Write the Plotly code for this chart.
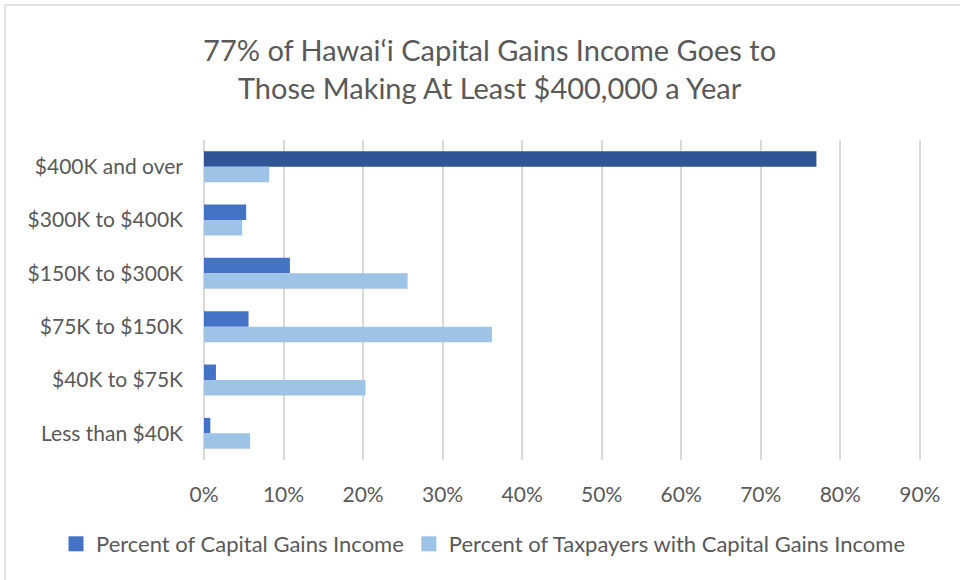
import plotly.graph_objects as go

categories = ["$400K and over", "$300K to $400K", "$150K to $300K",
              "$75K to $150K", "$40K to $75K", "Less than $40K"]
cap_gains_income = [0.77, 0.053, 0.108, 0.056, 0.015, 0.008]
taxpayers_with_cg = [0.082, 0.048, 0.256, 0.362, 0.203, 0.058]
x_ticks = [0, 0.1, 0.2, 0.3, 0.4, 0.5, 0.6, 0.7, 0.8, 0.9]
x_tick_labels = ["0%", "10%", "20%", "30%", "40%", "50%", "60%", "70%", "80%", "90%"]
series_names = ["Percent of Capital Gains Income",
                "Percent of Taxpayers with Capital Gains Income"]

title_text = "77% of Hawai\u2018i Capital Gains Income Goes to<br>Those Making At Least $400,000 a Year"

FONT = "Lato, 'Open Sans', sans-serif"
GRAY = "#595959"
MID_BLUE = "#4472C4"
DARK_BLUE = "#2F5597"
LIGHT_BLUE = "#9DC3E6"

cg_colors = [DARK_BLUE] + [MID_BLUE] * (len(categories) - 1)

fig = go.Figure()
fig.add_trace(go.Bar(
    y=categories, x=cap_gains_income, orientation="h",
    name=series_names[0], showlegend=False, legendgroup="a",
    marker=dict(color=cg_colors, line=dict(width=0)),
))
fig.add_trace(go.Bar(
    y=categories, x=taxpayers_with_cg, orientation="h",
    name=series_names[1], showlegend=False, legendgroup="b",
    marker=dict(color=LIGHT_BLUE, line=dict(width=0)),
))
# legend entries (no visible marks)
fig.add_trace(go.Scatter(x=[None], y=[None], mode="markers", name=series_names[0],
                         legendgroup="a",
                         marker=dict(symbol="square", size=15, color=MID_BLUE)))
fig.add_trace(go.Scatter(x=[None], y=[None], mode="markers", name=series_names[1],
                         legendgroup="b",
                         marker=dict(symbol="square", size=15, color=LIGHT_BLUE)))

L, R, T, B = 204, 39, 140, 120
W, H = 960, 580
pw = W - L - R
ph = H - T - B

def px_x(px):
    return (px - L) / pw

def px_y(py):
    return (H - B - py) / ph

fig.update_layout(
    width=W, height=H,
    margin=dict(l=L, r=R, t=T, b=B),
    paper_bgcolor="white", plot_bgcolor="white",
    barmode="group", bargap=0.42, bargroupgap=0,
    font=dict(family=FONT, size=21, color=GRAY),
    title=dict(text=title_text, x=0.51, xanchor="center", y=0.895, yanchor="middle",
               font=dict(family=FONT, size=29, color=GRAY)),
    xaxis=dict(range=[0, 0.9015], tickvals=x_ticks, ticktext=x_tick_labels,
               showgrid=True, gridcolor="#D9D9D9", gridwidth=2,
               zeroline=True, zerolinecolor="#D9D9D9", zerolinewidth=2,
               showline=False, ticks="", ticklabelstandoff=20,
               tickfont=dict(size=21, color=GRAY), fixedrange=True),
    yaxis=dict(autorange="reversed", showgrid=False, showline=False, ticks="",
               ticklabelstandoff=20, tickfont=dict(size=21, color=GRAY)),
    legend=dict(orientation="h", x=px_x(56), xanchor="left", y=px_y(544), yanchor="middle",
                font=dict(size=22, color=GRAY), traceorder="normal",
                itemwidth=30, tracegroupgap=0),
    showlegend=True,
    shapes=[dict(type="rect", xref="paper", yref="paper",
                 x0=px_x(5), x1=px_x(965), y0=px_y(585), y1=px_y(5),
                 line=dict(color="#D9D9D9", width=1.5), fillcolor="rgba(0,0,0,0)",
                 layer="below")],
)

fig.write_html("out.html")
